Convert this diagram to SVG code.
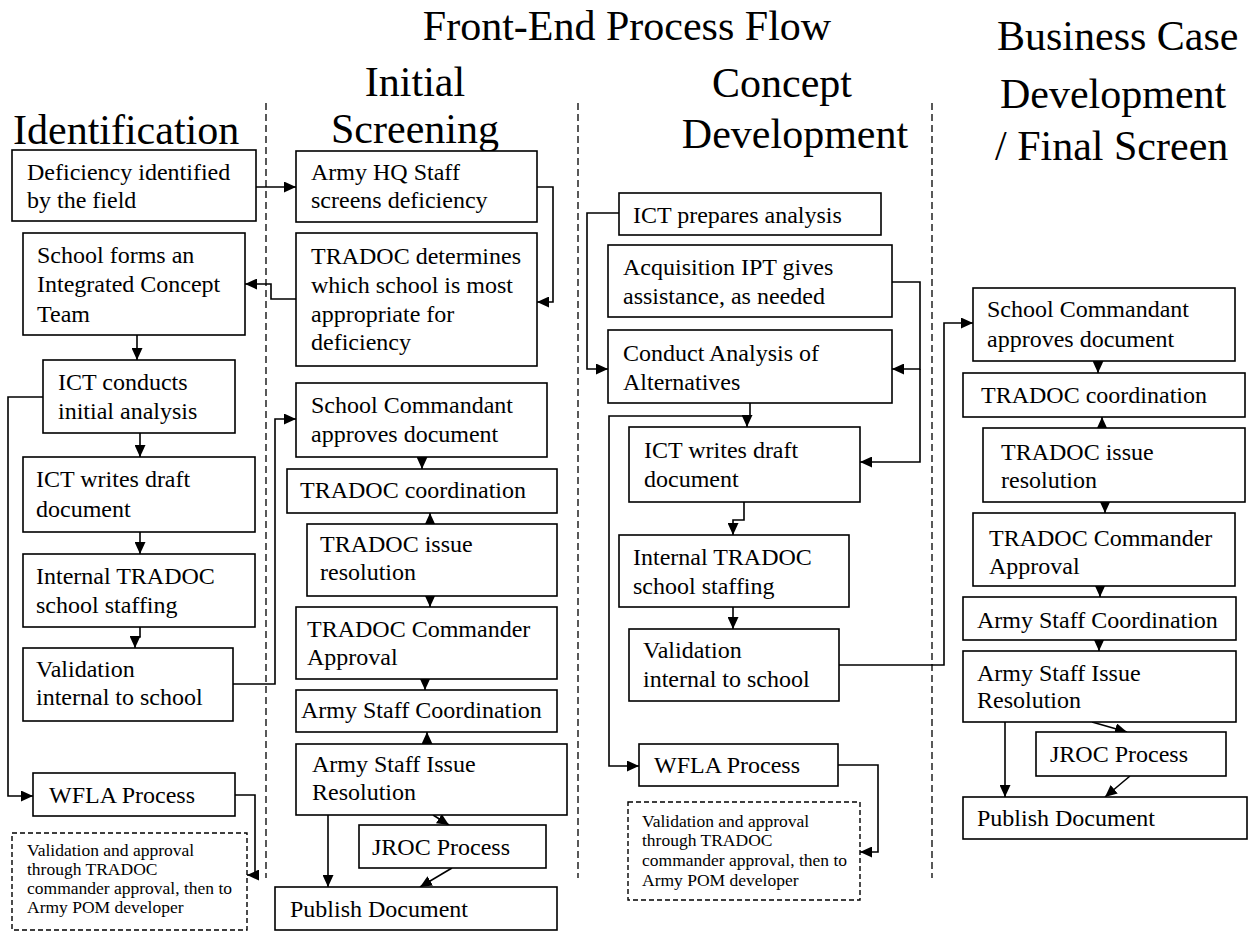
<svg xmlns="http://www.w3.org/2000/svg" width="1250" height="932" viewBox="0 0 1250 932">
<style>
.bg{fill:#fff}
.box{fill:#fff;stroke:#000;stroke-width:1.6}
.note{fill:#fff;stroke:#000;stroke-width:1.4;stroke-dasharray:5,3}
.t{font-family:"Liberation Serif","Times New Roman",serif;font-size:24px;fill:#000}
.s{font-family:"Liberation Serif","Times New Roman",serif;font-size:17.5px;fill:#000}
.h{font-family:"Liberation Serif","Times New Roman",serif;font-size:42px;fill:#000}
.div{stroke:#000;stroke-width:1.3;stroke-dasharray:7,4;fill:none}
.c{fill:none;stroke:#000;stroke-width:1.6;marker-end:url(#ah)}
.cn{fill:none;stroke:#000;stroke-width:1.6}
</style>
<defs>
<marker id="ah" markerUnits="userSpaceOnUse" markerWidth="13" markerHeight="11" refX="12" refY="5.5" orient="auto">
<path d="M0,0 L12,5.5 L0,11 z" fill="#000"/>
</marker>
</defs>
<rect class="bg" x="0" y="0" width="1250" height="932"/>

<g id="titles">
<text class="h" x="627" y="40" text-anchor="middle">Front-End Process Flow</text>
<text class="h" x="415" y="96" text-anchor="middle">Initial</text>
<text class="h" x="415" y="143" text-anchor="middle">Screening</text>
<text class="h" x="13" y="144">Identification</text>
<text class="h" x="782" y="97" text-anchor="middle">Concept</text>
<text class="h" x="795" y="148" text-anchor="middle">Development</text>
<text class="h" x="997" y="50">Business Case</text>
<text class="h" x="1000" y="108">Development</text>
<text class="h" x="995" y="160">/ Final Screen</text>
</g>

<g id="dividers">
<line class="div" x1="266" y1="103" x2="266" y2="878"/>
<line class="div" x1="578" y1="103" x2="578" y2="878"/>
<line class="div" x1="932" y1="103" x2="932" y2="878"/>
</g>

<g id="connectors">
<path class="c" d="M256,187 H296"/>
<path class="c" d="M537,187 H553 V302 H537"/>
<path class="c" d="M296,299 H271 V284 H245"/>
<path class="c" d="M137,335 V360"/>
<path class="c" d="M140,433 V457"/>
<path class="c" d="M140,532 V554"/>
<path class="c" d="M140,627 V637 H135 V648"/>
<path class="c" d="M43,397 H8 V796 H33"/>
<path class="c" d="M235,795 H255 V875 H247"/>
<path class="c" d="M233,684 H275 V419 H296"/>
<path class="c" d="M422,457 V469"/>
<path class="c" d="M430,524 V513"/>
<path class="c" d="M430,596 V607"/>
<path class="c" d="M425,679 V690"/>
<path class="c" d="M427,744 V732"/>
<path class="c" d="M433,815 L449,825"/>
<path class="c" d="M328,815 V887"/>
<path class="c" d="M452,868 L420,887"/>

<path class="c" d="M619,213 H587 V369 H608"/>
<path class="c" d="M892,282 H920 V369 H892"/>
<path class="c" d="M920,369 V462 H860"/>
<path class="cn" d="M750,403 V416"/>
<path class="c" d="M750,416 H747 V427"/>
<path class="c" d="M750,416 H609 V766 H639"/>
<path class="c" d="M744,502 V520 H733 V535"/>
<path class="c" d="M733,607 V629"/>
<path class="c" d="M839,665 H944 V323 H973"/>
<path class="c" d="M838,765 H878 V852 H860"/>

<path class="c" d="M1098,361 V373"/>
<path class="c" d="M1102,428 V417"/>
<path class="c" d="M1105,502 V513"/>
<path class="c" d="M1100,586 V597"/>
<path class="c" d="M1099,640 V651"/>
<path class="c" d="M1092,722 L1127,732"/>
<path class="c" d="M1005,722 V797"/>
<path class="c" d="M1130,776 L1105,797"/>
</g>

<g id="n-deficiency"><rect class="box" x="12" y="150" width="244" height="71"/><text class="t" x="27" y="180">Deficiency identified</text><text class="t" x="27" y="208">by the field</text></g>
<g id="n-school-forms"><rect class="box" x="23" y="233" width="222" height="102"/><text class="t" x="37" y="263">School forms an</text><text class="t" x="37" y="292">Integrated Concept</text><text class="t" x="37" y="322">Team</text></g>
<g id="n-ict-conducts"><rect class="box" x="43" y="360" width="192" height="73"/><text class="t" x="58" y="390">ICT conducts</text><text class="t" x="58" y="419">initial analysis</text></g>
<g id="n-ict-writes-1"><rect class="box" x="23" y="457" width="232" height="75"/><text class="t" x="36" y="487">ICT writes draft</text><text class="t" x="36" y="517">document</text></g>
<g id="n-internal-1"><rect class="box" x="23" y="554" width="232" height="73"/><text class="t" x="36" y="584">Internal TRADOC</text><text class="t" x="36" y="613">school staffing</text></g>
<g id="n-validation-1"><rect class="box" x="23" y="648" width="210" height="73"/><text class="t" x="36" y="677">Validation</text><text class="t" x="36" y="705">internal to school</text></g>
<g id="n-wfla-1"><rect class="box" x="33" y="773" width="202" height="43"/><text class="t" x="49" y="803">WFLA Process</text></g>
<g id="n-note-1"><rect class="note" x="12" y="833" width="235" height="97"/><text class="s" x="27" y="856">Validation and approval</text><text class="s" x="27" y="875">through TRADOC</text><text class="s" x="27" y="894">commander approval, then to</text><text class="s" x="27" y="913">Army POM developer</text></g>

<g id="s-army-hq"><rect class="box" x="296" y="151" width="241" height="71"/><text class="t" x="311" y="180">Army HQ Staff</text><text class="t" x="311" y="208">screens deficiency</text></g>
<g id="s-tradoc-determines"><rect class="box" x="296" y="233" width="241" height="133"/><text class="t" x="311" y="264">TRADOC determines</text><text class="t" x="311" y="293">which school is most</text><text class="t" x="311" y="322">appropriate for</text><text class="t" x="311" y="350">deficiency</text></g>
<g id="s-commandant"><rect class="box" x="296" y="383" width="251" height="74"/><text class="t" x="311" y="413">School Commandant</text><text class="t" x="311" y="442">approves document</text></g>
<g id="s-coord"><rect class="box" x="287" y="469" width="270" height="44"/><text class="t" x="300" y="498">TRADOC coordination</text></g>
<g id="s-issue"><rect class="box" x="307" y="524" width="250" height="72"/><text class="t" x="320" y="552">TRADOC issue</text><text class="t" x="320" y="580">resolution</text></g>
<g id="s-commander"><rect class="box" x="296" y="607" width="261" height="72"/><text class="t" x="307" y="637">TRADOC Commander</text><text class="t" x="307" y="665">Approval</text></g>
<g id="s-asc"><rect class="box" x="296" y="690" width="261" height="42"/><text class="t" x="301" y="718">Army Staff Coordination</text></g>
<g id="s-asir"><rect class="box" x="296" y="744" width="271" height="71"/><text class="t" x="312" y="772">Army Staff Issue</text><text class="t" x="312" y="800">Resolution</text></g>
<g id="s-jroc"><rect class="box" x="359" y="825" width="187" height="43"/><text class="t" x="372" y="855">JROC Process</text></g>
<g id="s-publish"><rect class="box" x="275" y="887" width="282" height="43"/><text class="t" x="290" y="917">Publish Document</text></g>

<g id="c-ict-prepares"><rect class="box" x="619" y="193" width="262" height="42"/><text class="t" x="633" y="223">ICT prepares analysis</text></g>
<g id="c-acquisition"><rect class="box" x="608" y="245" width="284" height="72"/><text class="t" x="623" y="275">Acquisition IPT gives</text><text class="t" x="623" y="304">assistance, as needed</text></g>
<g id="c-conduct"><rect class="box" x="608" y="330" width="284" height="73"/><text class="t" x="623" y="361">Conduct Analysis of</text><text class="t" x="623" y="390">Alternatives</text></g>
<g id="c-ict-writes"><rect class="box" x="629" y="427" width="231" height="75"/><text class="t" x="644" y="458">ICT writes draft</text><text class="t" x="644" y="487">document</text></g>
<g id="c-internal"><rect class="box" x="619" y="535" width="230" height="72"/><text class="t" x="633" y="565">Internal TRADOC</text><text class="t" x="633" y="594">school staffing</text></g>
<g id="c-validation"><rect class="box" x="629" y="629" width="210" height="72"/><text class="t" x="643" y="658">Validation</text><text class="t" x="643" y="687">internal to school</text></g>
<g id="c-wfla"><rect class="box" x="639" y="744" width="199" height="42"/><text class="t" x="654" y="773">WFLA Process</text></g>
<g id="c-note"><rect class="note" x="628" y="802" width="232" height="98"/><text class="s" x="642" y="827">Validation and approval</text><text class="s" x="642" y="846">through TRADOC</text><text class="s" x="642" y="866">commander approval, then to</text><text class="s" x="642" y="886">Army POM developer</text></g>

<g id="b-commandant"><rect class="box" x="973" y="288" width="262" height="73"/><text class="t" x="987" y="317">School Commandant</text><text class="t" x="987" y="347">approves document</text></g>
<g id="b-coord"><rect class="box" x="963" y="373" width="282" height="44"/><text class="t" x="981" y="403">TRADOC coordination</text></g>
<g id="b-issue"><rect class="box" x="983" y="428" width="262" height="74"/><text class="t" x="1001" y="460">TRADOC issue</text><text class="t" x="1001" y="488">resolution</text></g>
<g id="b-commander"><rect class="box" x="973" y="513" width="262" height="73"/><text class="t" x="989" y="546">TRADOC Commander</text><text class="t" x="989" y="574">Approval</text></g>
<g id="b-asc"><rect class="box" x="963" y="597" width="273" height="43"/><text class="t" x="977" y="628">Army Staff Coordination</text></g>
<g id="b-asir"><rect class="box" x="963" y="651" width="273" height="71"/><text class="t" x="977" y="681">Army Staff Issue</text><text class="t" x="977" y="708">Resolution</text></g>
<g id="b-jroc"><rect class="box" x="1036" y="732" width="190" height="44"/><text class="t" x="1050" y="762">JROC Process</text></g>
<g id="b-publish"><rect class="box" x="963" y="797" width="284" height="42"/><text class="t" x="977" y="826">Publish Document</text></g>
</svg>
